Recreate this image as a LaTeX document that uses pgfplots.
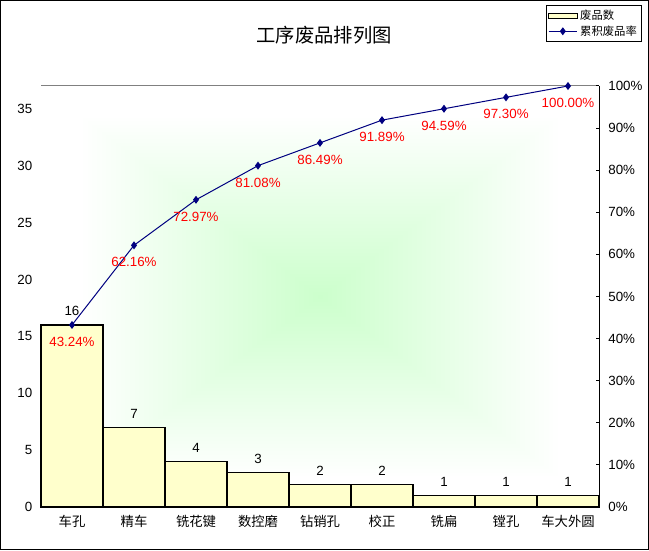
\documentclass[border=0pt]{standalone}
\usepackage{pgfplots}
\pgfplotsset{compat=1.18}
\usepackage{fontspec}
\setmainfont{Liberation Sans}
\newfontfamily\cjk{Noto Sans CJK SC}
\definecolor{barfill}{HTML}{FFFFCC}
\definecolor{linec}{HTML}{000080}
\definecolor{pctred}{HTML}{FF0000}
\pgfdeclarefunctionalshading{rectbg}{\pgfpoint{-50bp}{-50bp}}{\pgfpoint{50bp}{50bp}}{}{abs exch abs 2 copy lt {exch} if pop 21.5 div dup 1 gt {pop 1} if dup 0.2 mul 0.8 add exch 1 exch 0.2 mul 0.8 add}
\begin{document}
\begin{tikzpicture}
\useasboundingbox (0,0) rectangle (486.75pt,412.5pt);
\draw[line width=0.75pt] (0.375pt,0.375pt) rectangle (486.375pt,412.125pt);
\node[font=\cjk\fontsize{14.5}{16}\selectfont] at (243pt,386.25pt) {工序废品排列图};
\begin{axis}[
  at={(30.75pt,32.25pt)}, anchor=south west, scale only axis,
  width=418.5pt, height=315.75pt,
  xmin=-0.5, xmax=8.5, ymin=0, ymax=37,
  axis x line*=bottom, axis y line*=left,
  axis line style={line width=0.75pt, black},
  xtick={0,...,8},
  xticklabels={车孔,精车,铣花键,数控磨,钻销孔,校正,铣扁,镗孔,车大外圆},
  x tick label style={font=\cjk\fontsize{10}{12}\selectfont, yshift=-3pt},
  xtick style={draw=none},
  ytick={0,5,...,35},
  y tick label style={font=\fontsize{10}{12}\selectfont, xshift=-3pt},
  ytick style={line width=0.75pt, black},
  tick align=inside, major tick length=2.25pt,
  /pgf/number format/assume math mode=true,
  clip=false,
]
\fill[shading=rectbg] (axis cs:-0.5,0) rectangle (axis cs:8.5,37);
\draw[gray, line width=0.75pt] (axis cs:-0.5,37) -- (axis cs:8.5,37);
\addplot[ybar, bar width=1, bar shift=0, fill=barfill, draw=black, line width=0.9pt,
  nodes near coords, point meta=y,
  every node near coord/.append style={font=\fontsize{10}{12}\selectfont, black, yshift=3pt}]
  coordinates {(0,16) (1,7) (2,4) (3,3) (4,2) (5,2) (6,1) (7,1) (8,1)};
\end{axis}
\begin{axis}[
  at={(30.75pt,32.25pt)}, anchor=south west, scale only axis,
  width=418.5pt, height=315.75pt,
  xmin=-0.5, xmax=8.5, ymin=0, ymax=100,
  axis x line=none, axis y line*=right,
  axis line style={line width=0.75pt, black},
  ytick={0,10,...,100},
  yticklabel={\pgfmathprintnumber{\tick}\%},
  y tick label style={font=\fontsize{10}{12}\selectfont, xshift=3.5pt},
  ytick style={line width=0.75pt, black},
  tick align=inside, major tick length=2.25pt,
  /pgf/number format/assume math mode=true,
  clip=false,
  legend style={at={(0.905,1.192)}, anchor=north west, draw=black, line width=0.75pt,
    font=\cjk\fontsize{8.5}{10}\selectfont, inner sep=1.2pt, row sep=-1pt},
  legend cell align=left,
]
\addlegendimage{legend image code/.code={\draw[fill=barfill,draw=black,line width=0.6pt] (0cm,-0.07cm) rectangle (0.75cm,0.07cm);}}
\addlegendentry{废品数}
\addplot[linec, line width=0.75pt, mark=diamond*, mark size=2.4pt, mark options={fill=linec, draw=linec},
  legend image code/.code={\draw[linec, line width=0.75pt] (0cm,0cm) -- (0.75cm,0cm); \fill[linec] (0.375cm,0cm) +(-1.8pt,0) -- +(0,2.4pt) -- +(1.8pt,0) -- +(0,-2.4pt) -- cycle;},
  nodes near coords={\pgfmathprintnumber[fixed,fixed zerofill,precision=2]{\pgfplotspointmeta}\%},
  point meta=y,
  every node near coord/.append style={font=\fontsize{10}{12}\selectfont, pctred, anchor=north, yshift=-5.5pt}]
  coordinates {(0,43.24) (1,62.16) (2,72.97) (3,81.08) (4,86.49) (5,91.89) (6,94.59) (7,97.30) (8,100.00)};
\addlegendentry{累积废品率}
\end{axis}
\end{tikzpicture}
\end{document}
